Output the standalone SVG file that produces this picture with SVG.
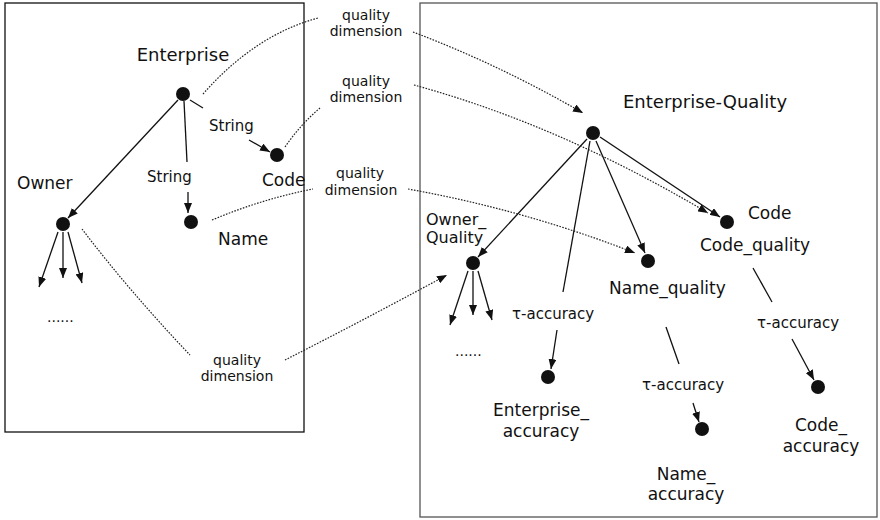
<svg xmlns="http://www.w3.org/2000/svg" width="880" height="520" viewBox="0 0 880 520">
<style>
text{font-family:"DejaVu Sans",sans-serif;fill:#111}
.big{font-size:17px}
.lg{font-size:18px}
.sm{font-size:14px}
.md{font-size:15px}
.mid{text-anchor:middle}
.edge{stroke:#111;stroke-width:1.3;fill:none}
.dot{stroke:#222;stroke-width:1.2;fill:none;stroke-dasharray:1.6 1.4}
.node{fill:#111}
</style>
<defs>
<marker id="ah" viewBox="0 0 10 8" refX="10" refY="4" markerWidth="10" markerHeight="8" markerUnits="userSpaceOnUse" orient="auto"><path d="M0,0 L10,4 L0,8 z" fill="#111"/></marker>
<marker id="ahd" viewBox="0 0 10 8" refX="10" refY="4" markerWidth="10" markerHeight="8" markerUnits="userSpaceOnUse" orient="auto"><path d="M0,0 L10,4 L0,8 z" fill="#111"/></marker>
</defs>
<rect width="880" height="520" fill="#fff"/>
<rect id="left-box" x="5" y="3" width="299" height="429" fill="none" stroke="#111" stroke-width="1.3"/>
<rect id="right-box" x="420" y="3" width="457" height="514" fill="none" stroke="#555" stroke-width="1.3"/>

<g id="connectors">
<path class="edge" d="M178,100 L68,218" marker-end="url(#ah)"/>
<path class="edge" d="M184,101 L187,162"/>
<path class="edge" d="M188,192 L188,213" marker-end="url(#ah)"/>
<path class="edge" d="M190,100 L203,108"/>
<path class="edge" d="M249,140 L270,152" marker-end="url(#ah)"/>
<path class="edge" d="M58,232 L39,287" marker-end="url(#ah)"/>
<path class="edge" d="M63,232 L63,278" marker-end="url(#ah)"/>
<path class="edge" d="M68,232 L82,283" marker-end="url(#ah)"/>
<path class="edge" d="M587,139 L478,257" marker-end="url(#ah)"/>
<path class="edge" d="M590,141 L563,292"/>
<path class="edge" d="M557,330 L551,369" marker-end="url(#ah)"/>
<path class="edge" d="M596,141 L645,253" marker-end="url(#ah)"/>
<path class="edge" d="M600,137 L720,217" marker-end="url(#ah)"/>
<path class="edge" d="M468,271 L450,325" marker-end="url(#ah)"/>
<path class="edge" d="M473,271 L473,315" marker-end="url(#ah)"/>
<path class="edge" d="M478,271 L492,320" marker-end="url(#ah)"/>
<path class="edge" d="M753,268 L772,302"/>
<path class="edge" d="M792,339 L814,380" marker-end="url(#ah)"/>
<path class="edge" d="M666,327 L679,364"/>
<path class="edge" d="M693,403 L699,422" marker-end="url(#ah)"/>
<path class="dot" d="M203,94 Q255,35 318,18"/>
<path class="dot" d="M413,32 Q500,65 583,113" marker-end="url(#ahd)"/>
<path class="dot" d="M414,85 Q560,125 708,213" marker-end="url(#ahd)"/>
<path class="dot" d="M285,147 Q300,125 320,108"/>
<path class="dot" d="M212,220 Q262,199 313,189"/>
<path class="dot" d="M408,189 Q525,210 635,253" marker-end="url(#ahd)"/>
<path class="dot" d="M82,229 Q130,292 190,355"/>
<path class="dot" d="M285,360 Q360,322 447,275" marker-end="url(#ahd)"/>
</g>

<g id="enterprise"><circle class="node" cx="183" cy="94" r="7"/><text class="lg mid" x="183" y="61">Enterprise</text></g>
<g id="code"><circle class="node" cx="277" cy="155" r="7"/><text class="big" x="262" y="186">Code</text></g>
<g id="name"><circle class="node" cx="191" cy="222" r="7"/><text class="big" x="218" y="245">Name</text></g>
<g id="owner"><circle class="node" cx="63" cy="224" r="7"/><text class="big" x="17" y="189">Owner</text></g>
<g id="string-labels"><text class="md" x="209" y="131">String</text><text class="md" x="147" y="182">String</text></g>
<g id="owner-more"><text class="sm" x="47" y="322">......</text></g>

<g id="qd1"><text class="sm mid" x="366" y="20">quality</text><text class="sm mid" x="366" y="36">dimension</text></g>
<g id="qd2"><text class="sm mid" x="366" y="86">quality</text><text class="sm mid" x="366" y="102">dimension</text></g>
<g id="qd3"><text class="sm mid" x="360" y="178">quality</text><text class="sm mid" x="361" y="195">dimension</text></g>
<g id="qd4"><text class="sm mid" x="237" y="365">quality</text><text class="sm mid" x="237" y="381">dimension</text></g>

<g id="enterprise-quality"><circle class="node" cx="593" cy="133" r="7"/><text class="lg" x="623" y="108">Enterprise-Quality</text></g>
<g id="owner-quality"><circle class="node" cx="473" cy="263" r="7"/><text class="big" x="426" y="225" style="font-size:16px">Owner_</text><text class="big" x="426" y="243" style="font-size:16px">Quality</text><text class="sm" x="455" y="356">......</text></g>
<g id="name-quality"><circle class="node" cx="648" cy="261" r="7"/><text class="big" x="609" y="294">Name_quality</text></g>
<g id="code-quality"><circle class="node" cx="727" cy="222" r="7"/><text class="big" x="748" y="219">Code</text><text class="big" x="700" y="251">Code_quality</text></g>
<g id="tau-labels"><text class="md" x="512" y="319">τ-accuracy</text><text class="md" x="757" y="328">τ-accuracy</text><text class="md" x="642" y="390">τ-accuracy</text></g>
<g id="enterprise-accuracy"><circle class="node" cx="548" cy="377" r="7"/><text class="big mid" x="541" y="416">Enterprise_</text><text class="big mid" x="541" y="437">accuracy</text></g>
<g id="name-accuracy"><circle class="node" cx="702" cy="429" r="7"/><text class="big mid" x="686" y="480">Name_</text><text class="big mid" x="686" y="500">accuracy</text></g>
<g id="code-accuracy"><circle class="node" cx="818" cy="387" r="7"/><text class="big mid" x="821" y="431">Code_</text><text class="big mid" x="821" y="452">accuracy</text></g>
</svg>
